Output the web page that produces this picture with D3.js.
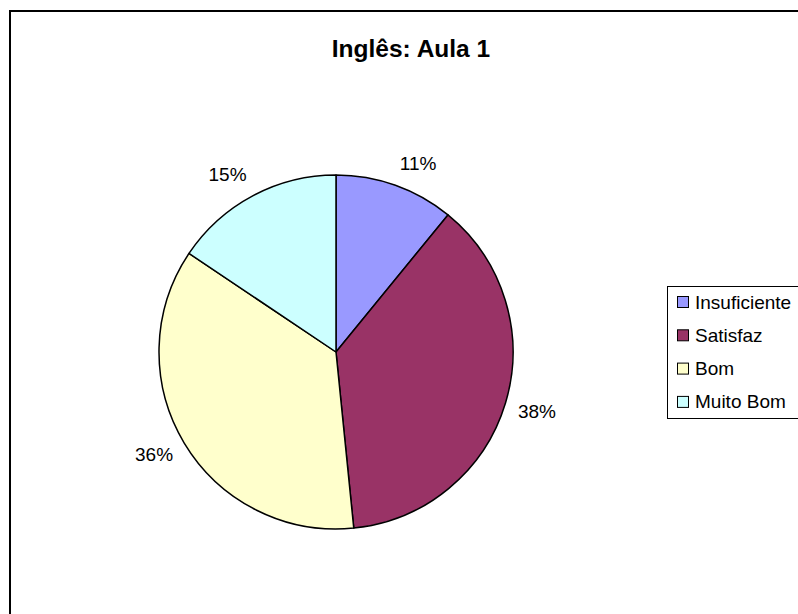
<!DOCTYPE html>
<html>
<head>
<meta charset="utf-8">
<script src="https://cdn.jsdelivr.net/npm/d3@7"></script>
<style>
  html, body { margin: 0; padding: 0; background: #fff; }
  svg { display: block; }
</style>
</head>
<body>
<svg id="chart" width="798" height="614"></svg>
<script>
const title = "Inglês: Aula 1";
const categories = ["Insuficiente", "Satisfaz", "Bom", "Muito Bom"];
const values = [10.9, 37.5, 36.0, 15.6];
const labels = ["11%", "38%", "36%", "15%"];
const colors = ["#9999FF", "#993366", "#FFFFCC", "#CCFFFF"];

const svg = d3.select("#chart");
const font = "'Liberation Sans', Arial, sans-serif";

// outer chart border (extends beyond window)
svg.append("rect")
  .attr("x", 10).attr("y", 11)
  .attr("width", 820).attr("height", 640)
  .attr("fill", "#fff").attr("stroke", "#000").attr("stroke-width", 2);

svg.append("text")
  .attr("x", 411).attr("y", 57)
  .attr("text-anchor", "middle")
  .attr("font-family", font).attr("font-weight", "bold").attr("font-size", 24.5)
  .attr("fill", "#000")
  .text(title);

const cx = 336, cy = 352, r = 177;
const g = svg.append("g").attr("transform", `translate(${cx},${cy})`);

const pie = d3.pie().sort(null).value(d => d);
const arcs = pie(values);
const arc = d3.arc().innerRadius(0).outerRadius(r);
const color = d3.scaleOrdinal().domain(categories).range(colors);

g.selectAll("path.slice").data(arcs).enter().append("path")
  .attr("class", "slice")
  .attr("d", arc)
  .attr("fill", (d, i) => color(categories[i]))
  .attr("stroke", "#000").attr("stroke-width", 1.5)
  .attr("stroke-linejoin", "round");

// best-fit style labels: box corner sits at a fixed radius outside the pie
const labelR = r + 13;
const capH = 13.6;
g.selectAll("text.lbl").data(arcs).enter().append("text")
  .attr("class", "lbl")
  .each(function(d, i) {
    const a = (d.startAngle + d.endAngle) / 2;
    const s = Math.sin(a), c = Math.cos(a);
    const px = labelR * s, py = -labelR * c;
    d3.select(this)
      .attr("x", px)
      .attr("y", c > 0 ? py - 3 : py + capH - 2)
      .attr("text-anchor", s >= 0 ? "start" : "end");
  })
  .attr("font-family", font).attr("font-size", 19)
  .attr("fill", "#000")
  .text((d, i) => labels[i]);

// legend
const lx = 667, ly = 286, rowH = 33.3;
const leg = svg.append("g");
leg.append("rect")
  .attr("x", lx + 0.5).attr("y", ly + 0.5)
  .attr("width", 160).attr("height", 132)
  .attr("fill", "#fff").attr("stroke", "#000").attr("stroke-width", 1);

const rows = leg.selectAll("g.row").data(categories).enter().append("g")
  .attr("class", "row")
  .attr("transform", (d, i) => `translate(${lx}, ${ly + 16 + i * rowH})`);
rows.append("rect")
  .attr("x", 10.5).attr("y", -5.5)
  .attr("width", 11).attr("height", 11)
  .attr("fill", d => color(d)).attr("stroke", "#000").attr("stroke-width", 1);
rows.append("text")
  .attr("x", 28).attr("y", 0)
  .attr("dominant-baseline", "central")
  .attr("font-family", font).attr("font-size", 19)
  .attr("fill", "#000")
  .text(d => d);
</script>
</body>
</html>
